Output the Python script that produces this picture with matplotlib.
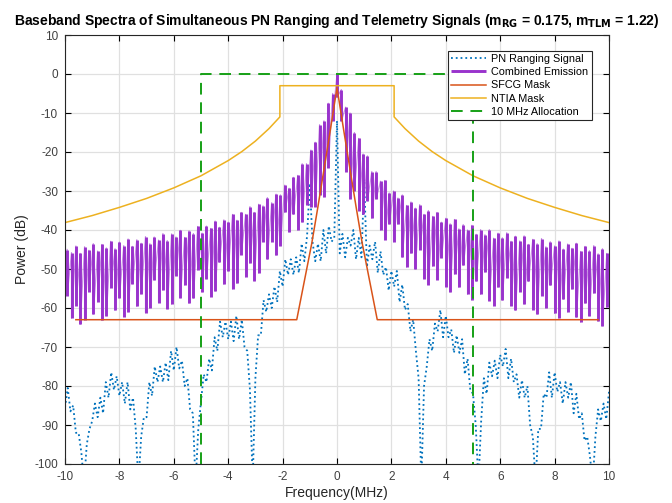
import numpy as np
import matplotlib
matplotlib.use("Agg")
import matplotlib.pyplot as plt

plt.rcParams['font.family'] = ['Liberation Sans', 'DejaVu Sans']
plt.rcParams['axes.unicode_minus'] = False

# ---- PN ranging signal, sampled every 0.1 MHz (dB) ----
pn_freq = np.round(np.arange(-100, 101) * 0.1, 1)
# right side: f = 0.0 ... 10.0
pn_right = [-12, -46, -41, -47, -42, -44, -40, -47.5, -42, -47,
            -27, -49.5, -44, -47.5, -43, -51, -45.5, -51.5, -49.5, -55.5,
            -50.5, -54.5, -50.5, -58.5, -54, -60.5, -59, -66, -63, -71,
            -78, -105, -80, -75, -68, -71, -64, -66, -60.5, -67.5,
            -62, -67.5, -65.5, -71.5, -67, -71.5, -68, -77, -73, -81,
            -82, -90, -105, -89, -78, -82, -74, -77.5, -73.5, -78,
            -72, -75, -70.5, -78, -73, -79, -77, -83, -78.5, -83,
            -80, -90, -93, -105, -91, -91, -82, -83, -76.5, -83,
            -76.5, -81.5, -79, -84.5, -79, -83, -79, -87, -82, -88.5,
            -87, -94, -93, -98, -105, -93, -86, -89, -84.5, -88.5,
            -81.5]
# left side, listed outward from the centre: f = -0.1 ... -10.0
pn_left = [-42, -43, -39, -46, -40, -48, -43.5, -48, -43,
           -28, -41.5, -48, -43.5, -51, -47, -51.5, -47.5, -51.5, -47.5,
           -54.5, -50.5, -58.5, -54.5, -60, -56.5, -61, -58, -67, -67,
           -78, -105, -81, -71, -70, -63, -68, -62, -68.5, -63.5,
           -68, -63.5, -67.5, -63.5, -71, -67.5, -76, -73, -79, -77,
           -84, -91, -105, -87, -86, -78, -80, -73.5, -75.5, -70,
           -76, -71, -78.5, -74, -79, -75, -79, -75, -82.5, -79,
           -88, -88, -93, -105, -91, -83, -86, -79, -84.5, -79,
           -82.5, -77.5, -81, -76.5, -83, -79, -87, -83, -88, -84.5,
           -89, -91, -95, -105, -97, -92, -92, -85, -86.5, -80.5,
           -85.5]
pn_db = np.array(pn_left[::-1] + pn_right)

# ---- combined emission: discrete lines every 0.16 MHz (top / bottom, dB) ----
line_freq = np.round(np.arange(-62, 63) * 0.16, 2)
centre_top, centre_bot = 0, -6
right_top = [-4, -8.5, -10, -15, -16.5, -20.5, -21, -25, -25, -27.5,
             -27.3, -30.5, -30, -31.8, -31, -33.7, -32.8, -34.4, -33.5, -36,
             -35, -36.5, -35.5, -38, -37, -38.4, -37.3, -39.7, -38.6, -40,
             -38.8, -41.1, -39.9, -41.2, -39.9, -42.1, -40.8, -42, -40.7, -42.9,
             -41.6, -42.8, -41.5, -43.7, -42.4, -43.5, -42.2, -44.3, -43, -44.1,
             -42.8, -44.9, -43.6, -44.7, -43.4, -45.5, -44.2, -45.3, -44, -46.1,
             -44.8, -46]
right_bot = [-12, -25, -32, -30, -35, -36, -32.5, -37, -32, -40,
             -42.5, -38.5, -43, -38.5, -47, -49.5, -46, -50, -45, -52.5,
             -54, -49.3, -52.7, -47.1, -54.5, -55.9, -51.3, -54.7, -49.1, -56.5,
             -57.9, -53.2, -56.5, -50.8, -58.1, -59.4, -54.7, -58, -52.2, -59.4,
             -60.6, -55.8, -59, -53.2, -60.4, -61.6, -56.8, -60, -54.2, -61.4,
             -62.6, -57.8, -61, -55.2, -62.4, -63.6, -58.8, -62, -56.2, -63.4,
             -64.6, -59.8]
# left side, listed outward from the centre
left_top = [-5, -7.5, -12, -13, -17.5, -19.5, -23, -23, -26, -26.5,
            -29.3, -28.5, -31, -30.8, -33, -31.7, -33.8, -33.4, -35.5, -34,
            -36, -35.5, -37.5, -36, -38, -37.4, -39.3, -37.7, -39.6, -39,
            -40.8, -39.1, -40.9, -40.2, -41.9, -40.1, -41.8, -41, -42.7, -40.9,
            -42.6, -41.8, -43.5, -41.7, -43.4, -42.5, -44.2, -42.3, -44, -43.1,
            -44.8, -42.9, -44.6, -43.7, -45.4, -43.5, -45.2, -44.3, -46, -44.1,
            -45.8, -45]
left_bot = [-12, -24, -31.5, -31, -34, -34, -33.5, -38, -40, -36,
            -40.5, -35.5, -44, -46.5, -43, -47.5, -43, -51, -53, -48.5,
            -52, -46.3, -53.7, -55.1, -50.5, -53.9, -48.3, -55.7, -57.1, -52.5,
            -55.9, -50.2, -57.5, -58.8, -54.1, -57.4, -51.7, -59, -60.2, -55.4,
            -58.6, -52.8, -60, -61.2, -56.4, -59.6, -53.8, -61, -62.2, -57.4,
            -60.6, -54.8, -62, -63.2, -58.4, -61.6, -55.8, -63, -64.2, -59.4,
            -62.6, -56.8]
line_top = np.array(left_top[::-1] + [centre_top] + right_top)
line_bot = np.array(left_bot[::-1] + [centre_bot] + right_bot)

# ---- masks ----
sfcg_freq = [-9.6, -1.48, -0.93, -0.7, -0.26, 0, 0.26, 0.7, 0.93, 1.48, 9.6]
sfcg_db = [-63, -63, -43.5, -34, -15, -3.5, -15, -34, -43.5, -63, -63]

ntia_freq = [-10, -9, -8, -7, -6, -5, -4, -3.5, -3, -2.5, -2.1, -2.1,
             2.1, 2.1, 2.5, 3, 3.5, 4, 5, 6, 7, 8, 9, 10]
ntia_db = [-38.1, -36.3, -34.2, -31.9, -29.2, -26.1, -22.2, -19.9, -17.2, -14.0, -11, -3,
           -3, -11, -14.0, -17.2, -19.9, -22.2, -26.1, -29.2, -31.9, -34.2, -36.3, -38.1]

alloc_freq = [-5, -5, 5, 5]
alloc_db = [-100, 0, 0, -100]

purple = '#9933CC'

# thin trace joining the bottom of each line to the top of the next one
saw_x = np.repeat(line_freq, 2)
saw_y = np.column_stack([line_top, line_bot]).ravel()

fig = plt.figure(figsize=(6.72, 5.03), dpi=100)
ax = fig.add_axes([65 / 672, 39 / 503, 544 / 672, 429 / 503])

ax.plot(pn_freq, pn_db, ':', color='#0072BD', lw=1.3, label='PN Ranging Signal')
ax.plot(saw_x, saw_y, '-', color=purple, lw=0.9, alpha=0.55)
ax.vlines(line_freq, line_bot, line_top, color=purple, lw=2.1, label='Combined Emission')
ax.plot(sfcg_freq, sfcg_db, '-', color='#D95319', lw=1.1, label='SFCG Mask')
ax.plot(ntia_freq, ntia_db, '-', color='#EDB120', lw=1.1, label='NTIA Mask')
ax.plot(alloc_freq, alloc_db, '--', color='#16A016', lw=1.4, dashes=(6, 4),
        label='10 MHz Allocation')

ax.set_xlim(-10, 10)
ax.set_ylim(-100, 10)
ax.set_xticks(np.arange(-10, 11, 2))
ax.set_yticks(np.arange(-100, 11, 10))
ax.grid(True, color='#E0E0E0', lw=0.9)
ax.set_axisbelow(True)
ax.tick_params(direction='in', top=True, right=True, length=4, width=0.8,
               labelsize=8.5, labelcolor='#404040', pad=5)
for s in ax.spines.values():
    s.set_linewidth(0.8)
    s.set_color('#262626')

ax.set_xlabel('Frequency(MHz)', fontsize=10, color='#262626', labelpad=2)
ax.set_ylabel('Power (dB)', fontsize=10, color='#262626', labelpad=4)
ax.set_title(r'Baseband Spectra of Simultaneous PN Ranging and Telemetry Signals '
             r'(m$_{\mathbf{RG}}$ = 0.175, m$_{\mathbf{TLM}}$ = 1.22)',
             fontsize=10, fontweight='bold', pad=7)

leg = ax.legend(loc='upper right', bbox_to_anchor=(0.978, 0.976), fontsize=7.8,
                frameon=True, fancybox=False, framealpha=1, edgecolor='#262626',
                handlelength=3.2, borderpad=0.3, labelspacing=0.3, handletextpad=0.5)
leg.get_frame().set_linewidth(0.8)

fig.savefig('out.png', dpi=100)
